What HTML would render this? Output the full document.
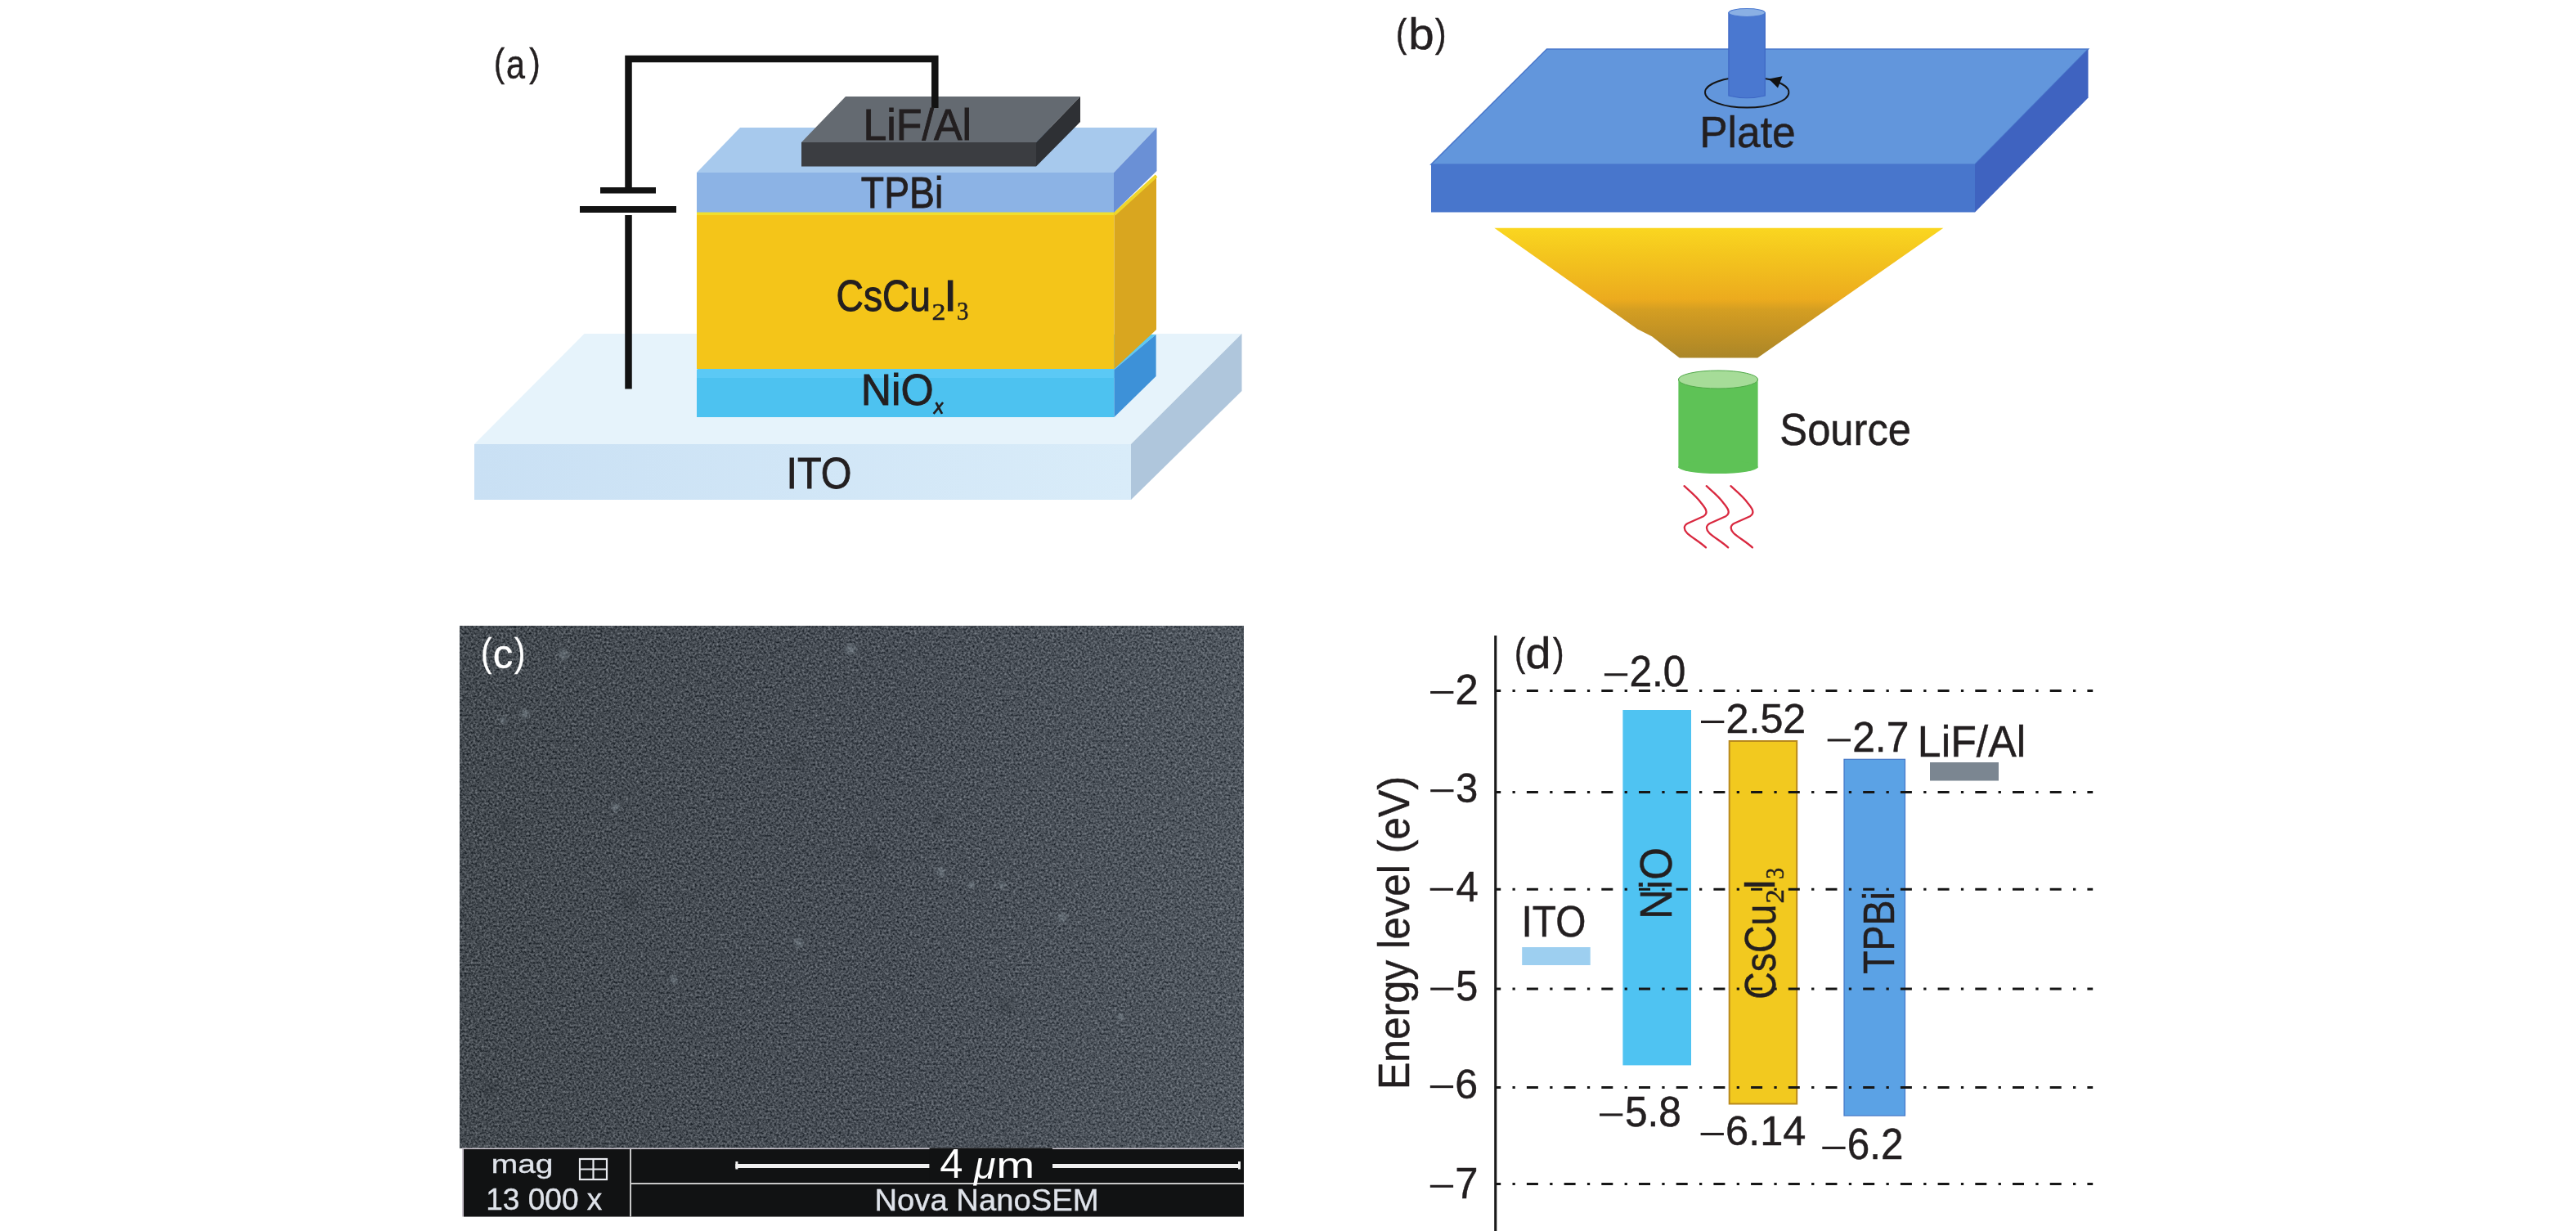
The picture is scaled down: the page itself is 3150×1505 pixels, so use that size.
<!DOCTYPE html>
<html><head><meta charset="utf-8"><title>figure</title>
<style>
html,body{margin:0;padding:0;background:#ffffff;}
body{width:3150px;height:1505px;overflow:hidden;position:relative;}
svg{position:absolute;left:0;top:0;display:block;will-change:transform;}
text{white-space:pre;}
</style></head><body>
<svg width="3150" height="1505" viewBox="0 0 3150 1505">
<defs>
<filter id="semnoise" x="0" y="0" width="100%" height="100%" color-interpolation-filters="sRGB">
<feTurbulence type="fractalNoise" baseFrequency="0.38" numOctaves="2" seed="7" result="n"/>
<feColorMatrix in="n" type="matrix" values="1 0 0 0 0  1 0 0 0 0  1 0 0 0 0  0 0 0 0 1" result="c"/>
<feComposite in="SourceGraphic" in2="c" operator="arithmetic" k1="0" k2="1" k3="0.55" k4="-0.275"/>
</filter>
</defs>
<rect width="3150" height="1505" fill="#ffffff"/>
<g id="pa">
<polygon points="580,543 1383,543 1518.5,408 714.5,408" fill="#e6f3fb"/>
<defs><linearGradient id="itof" x1="0" y1="0" x2="1" y2="0"><stop offset="0" stop-color="#c9e0f4"/><stop offset="1" stop-color="#d9ecf9"/></linearGradient></defs><rect x="580" y="543" width="803" height="68" fill="url(#itof)"/>
<polygon points="1383,543 1518.5,408 1518.5,478 1383,611" fill="#afc6dc"/>
<polygon points="852,452 1362.5,452 1413.6,409 903,409" fill="#5ccaf3"/>
<rect x="852" y="452" width="510.5" height="58" fill="#4dc2f0"/>
<rect x="852" y="452" width="510.5" height="10" fill="#5bc9f5"/>
<polygon points="1362.5,452 1413.6,409 1413.6,460 1362.5,510" fill="#3d91d8"/>
<rect x="852" y="259" width="510.5" height="192" fill="#f4c519"/>
<rect x="852" y="259" width="510.5" height="4" fill="#f1df2c"/>
<polygon points="1362.5,261 1414,214 1414,403 1362.5,451" fill="#d9a61f"/>
<polyline points="1362.5,262 1414,215" stroke="#efd52a" stroke-width="4" fill="none"/>
<polygon points="852,211 1362,211 1414.5,156 905,156" fill="#a7c9ed"/>
<rect x="852" y="211" width="510" height="48.5" fill="#8cb3e5"/>
<polygon points="1362,211 1414.5,156 1414.5,209 1362,260" fill="#6a90d6"/>
<polygon points="980,174 1267,174 1321,118 1034,118" fill="#646a71"/>
<rect x="980" y="174" width="287" height="29.5" fill="#3b3d41"/>
<polygon points="1267,174 1321,118 1321,149 1267,203.5" fill="#2e3034"/>
<path d="M768.5,475.5 V263 M768.5,229 V72 H1143.3 V132" stroke="#121212" stroke-width="8.5" fill="none" stroke-linejoin="miter"/>
<rect x="734" y="229" width="68" height="7.5" fill="#121212"/>
<rect x="709" y="252" width="118" height="8" fill="#121212"/>
<text transform="translate(604.07,92.64) scale(0.8157,1)" style="font-family:'Liberation Sans',sans-serif;font-size:48.09px;" fill="#231f20" stroke="#231f20" stroke-width="0.5" >(</text>
<text transform="translate(619.05,95.81) scale(0.8222,1)" style="font-family:'Liberation Sans',sans-serif;font-size:50.20px;" fill="#231f20" stroke="#231f20" stroke-width="0.5" >a</text>
<text transform="translate(647.16,92.64) scale(0.8392,1)" style="font-family:'Liberation Sans',sans-serif;font-size:48.09px;" fill="#231f20" stroke="#231f20" stroke-width="0.5" >)</text>
<text transform="translate(1055.44,170.80) scale(0.9700,1)" style="font-family:'Liberation Sans',sans-serif;font-size:53.49px;" fill="#231f20" stroke="#231f20" stroke-width="0.9" >LiF/Al</text>
<text transform="translate(1052.86,253.80) scale(0.8682,1)" style="font-family:'Liberation Sans',sans-serif;font-size:53.34px;" fill="#231f20" stroke="#231f20" stroke-width="0.9" >TPBi</text>
<text transform="translate(1022.55,379.98) scale(0.8630,1)" style="font-family:'Liberation Sans',sans-serif;font-size:53.53px;" fill="#231f20" stroke="#231f20" stroke-width="1.1" >CsCu</text>
<text transform="translate(1139.41,390.80) scale(1.1288,1)" style="font-family:'Liberation Serif',sans-serif;font-size:30.06px;" fill="#231f20" stroke="#231f20" stroke-width="0.5" >2</text>
<text transform="translate(1154.16,380.00) scale(1.0539,1)" style="font-family:'Liberation Sans',sans-serif;font-size:53.93px;" fill="#231f20" stroke="#231f20" stroke-width="1.1" >I</text>
<text transform="translate(1169.92,390.50) scale(0.9396,1)" style="font-family:'Liberation Serif',sans-serif;font-size:30.66px;" fill="#231f20" stroke="#231f20" stroke-width="0.5" >3</text>
<text transform="translate(1052.66,494.90) scale(0.9689,1)" style="font-family:'Liberation Sans',sans-serif;font-size:53.34px;" fill="#231f20" stroke="#231f20" stroke-width="0.9" >NiO</text>
<path d="M1141.6,505.8 L1153.1,492 M1144.6,492 L1152,505.8" stroke="#231f20" stroke-width="2.7" fill="none"/>
<text transform="translate(961.53,597.00) scale(0.9015,1)" style="font-family:'Liberation Sans',sans-serif;font-size:53.78px;" fill="#231f20" stroke="#231f20" stroke-width="0.9" >ITO</text>
</g>
<g id="pb">
<text transform="translate(1707.04,56.64) scale(0.8235,1)" style="font-family:'Liberation Sans',sans-serif;font-size:48.09px;" fill="#231f20" stroke="#231f20" stroke-width="0.5" >(</text>
<text transform="translate(1722.16,60.27) scale(1.0448,1)" style="font-family:'Liberation Sans',sans-serif;font-size:54.06px;" fill="#231f20" stroke="#231f20" stroke-width="0.5" >b</text>
<text transform="translate(1755.06,56.64) scale(0.8392,1)" style="font-family:'Liberation Sans',sans-serif;font-size:48.09px;" fill="#231f20" stroke="#231f20" stroke-width="0.5" >)</text>
<polygon points="1750,201 2415,201 2553.5,60 1891.5,60" fill="#6296dc" stroke="#4a78cc" stroke-width="1.5"/>
<rect x="1750" y="201" width="665" height="58.5" fill="#4876cc"/>
<polygon points="2415,201 2553.5,60 2553.5,119.5 2415,259.5" fill="#3f63c0"/>
<ellipse cx="2136.2" cy="112.9" rx="51.2" ry="18.6" fill="none" stroke="#151515" stroke-width="1.9"/>
<path d="M2113.9,15.5 V117 Q2136.2,122.5 2158.3,117 V15.5 Z" fill="#4a78d0" stroke="#3d66c4" stroke-width="1.2"/>

<ellipse cx="2136.1" cy="15.5" rx="22.2" ry="5" fill="#8ab0e4" stroke="#4a78d0" stroke-width="1.2"/>
<polygon points="2163,96.5 2179.5,93.3 2174,107.5" fill="#111"/>
<text transform="translate(2078.27,180.00) scale(0.9657,1)" style="font-family:'Liberation Sans',sans-serif;font-size:53.34px;" fill="#231f20" stroke="#231f20" stroke-width="0.5" >Plate</text>
<defs><linearGradient id="fang" x1="0" y1="0" x2="0" y2="1"><stop offset="0" stop-color="#fad620"/><stop offset="0.2" stop-color="#f4c61e"/><stop offset="0.55" stop-color="#ecab1e"/><stop offset="0.63" stop-color="#d49e22"/><stop offset="0.8" stop-color="#c29224"/><stop offset="1" stop-color="#aa8628"/></linearGradient></defs>
<polygon points="1827.3,278.8 2376.4,278.8 2149.2,437.5 2053.7,437.5 2020,411.3 2002.6,402.6" fill="url(#fang)"/>
<rect x="2052.4" y="464" width="97.2" height="108" fill="#5ec256"/>
<ellipse cx="2101" cy="571" rx="48.6" ry="8" fill="#5ec256"/>
<ellipse cx="2101" cy="464" rx="48.6" ry="11" fill="#a6dc98" stroke="#4fa848" stroke-width="1"/>
<text transform="translate(2176.30,544.26) scale(0.9164,1)" style="font-family:'Liberation Sans',sans-serif;font-size:55.37px;" fill="#231f20" stroke="#231f20" stroke-width="0.5" >Source</text>
<path d="M2059.5,594.2 c5,4.5 16,13.5 20.5,20.5 c4.5,5.5 10.5,12.5 3,16.5 l-19,8.5 c-6,3 -5,8 -1,12 c5,5 16,11 23,17.7" stroke="#d9283f" stroke-width="2.3" fill="none" stroke-linejoin="round" stroke-linecap="round"/>
<path d="M2086.7,594.2 c5,4.5 16,13.5 20.5,20.5 c4.5,5.5 10.5,12.5 3,16.5 l-19,8.5 c-6,3 -5,8 -1,12 c5,5 16,11 23,17.7" stroke="#d9283f" stroke-width="2.3" fill="none" stroke-linejoin="round" stroke-linecap="round"/>
<path d="M2116.4,594.2 c5,4.5 16,13.5 20.5,20.5 c4.5,5.5 10.5,12.5 3,16.5 l-19,8.5 c-6,3 -5,8 -1,12 c5,5 16,11 23,17.7" stroke="#d9283f" stroke-width="2.3" fill="none" stroke-linejoin="round" stroke-linecap="round"/>
</g>
<g id="pc">
<defs><linearGradient id="semg" x1="0" y1="0" x2="1" y2="0"><stop offset="0" stop-color="#43494f"/><stop offset="0.55" stop-color="#474d55"/><stop offset="1" stop-color="#4f565e"/></linearGradient><radialGradient id="speck"><stop offset="0" stop-color="#aab8c0" stop-opacity="0.38"/><stop offset="1" stop-color="#aab8c0" stop-opacity="0"/></radialGradient><radialGradient id="dspot"><stop offset="0" stop-color="#2c3238" stop-opacity="0.35"/><stop offset="1" stop-color="#2c3238" stop-opacity="0"/></radialGradient></defs>
<rect x="562" y="765" width="959" height="639" fill="url(#semg)" filter="url(#semnoise)"/>
<circle cx="689" cy="800" r="9" fill="url(#speck)"/>
<circle cx="642" cy="873" r="8" fill="url(#speck)"/>
<circle cx="1040" cy="794" r="10" fill="url(#speck)"/>
<circle cx="753" cy="987" r="7" fill="url(#speck)"/>
<circle cx="1151" cy="1066" r="8" fill="url(#speck)"/>
<circle cx="1188" cy="1082" r="6" fill="url(#speck)"/>
<circle cx="1225" cy="1082" r="6" fill="url(#speck)"/>
<circle cx="1299" cy="1122" r="8" fill="url(#speck)"/>
<circle cx="977" cy="1153" r="8" fill="url(#speck)"/>
<circle cx="824" cy="1198" r="7" fill="url(#speck)"/>
<circle cx="1370" cy="1243" r="6" fill="url(#speck)"/>
<circle cx="615" cy="880" r="6" fill="url(#speck)"/>
<circle cx="1146" cy="1003" r="12" fill="url(#dspot)"/>
<circle cx="1067" cy="1045" r="14" fill="url(#dspot)"/>
<circle cx="618" cy="1008" r="14" fill="url(#dspot)"/>
<circle cx="972" cy="929" r="14" fill="url(#dspot)"/>
<circle cx="770" cy="1100" r="18" fill="url(#dspot)"/>
<circle cx="1230" cy="1230" r="14" fill="url(#dspot)"/>
<circle cx="600" cy="1330" r="16" fill="url(#dspot)"/>
<text transform="translate(588.00,813.88) scale(0.8337,1)" style="font-family:'Liberation Sans',sans-serif;font-size:48.41px;" fill="#ffffff" stroke="#ffffff" stroke-width="0.3" >(</text>
<text transform="translate(602.81,817.00) scale(0.9690,1)" style="font-family:'Liberation Sans',sans-serif;font-size:50.74px;" fill="#ffffff" stroke="#ffffff" stroke-width="0.3" >c</text>
<text transform="translate(628.96,813.88) scale(0.8337,1)" style="font-family:'Liberation Sans',sans-serif;font-size:48.41px;" fill="#ffffff" stroke="#ffffff" stroke-width="0.3" >)</text>
<rect x="565" y="1403.5" width="956" height="84" fill="#c9c3cc"/>
<rect x="567" y="1405" width="954" height="82.5" fill="#111213"/>
<rect x="770" y="1405" width="2" height="82.5" fill="#c8c8c8"/>
<rect x="772" y="1446" width="749" height="2" fill="#c8c8c8"/>
<rect x="1136.6" y="1403.5" width="150.4" height="42.5" fill="#111213"/>
<rect x="899.4" y="1423" width="237" height="5" fill="#f0f0f0"/>
<rect x="1287" y="1423" width="230" height="5" fill="#f0f0f0"/>
<rect x="899.4" y="1420" width="3" height="9.5" fill="#f0f0f0"/>
<rect x="1514" y="1420" width="3" height="9.5" fill="#f0f0f0"/>
<text transform="translate(600.71,1434.08) scale(1.2798,1)" style="font-family:'Liberation Sans',sans-serif;font-size:30.45px;" fill="#dfe3ea" stroke="#dfe3ea" stroke-width="0.35" >mag</text>
<g stroke="#e8eaee" stroke-width="2.2" fill="none"><rect x="709" y="1417" width="33" height="25"/><line x1="725.5" y1="1417" x2="725.5" y2="1442"/><line x1="709" y1="1429.5" x2="742" y2="1429.5"/></g>
<text transform="translate(594.18,1479.35) scale(1.0213,1)" style="font-family:'Liberation Sans',sans-serif;font-size:36.30px;" fill="#dfe3ea" stroke="#dfe3ea" stroke-width="0.35" >13 000 x</text>
<text transform="translate(1149.33,1440.00) scale(1.0250,1)" style="font-family:'Liberation Sans',sans-serif;font-size:49.56px;" fill="#ffffff" stroke="#ffffff" stroke-width="0" >4</text>
<text transform="translate(1191.01,1440.88) scale(1.0511,1)" style="font-family:'Liberation Sans',sans-serif;font-size:45.96px;font-style:italic;" fill="#ffffff" stroke="#ffffff" stroke-width="0" >μ</text>
<text transform="translate(1218.26,1440.00) scale(1.2963,1)" style="font-family:'Liberation Sans',sans-serif;font-size:43.49px;" fill="#ffffff" stroke="#ffffff" stroke-width="0" >m</text>
<text transform="translate(1069.46,1480.25) scale(1.0576,1)" style="font-family:'Liberation Sans',sans-serif;font-size:36.16px;" fill="#dfe3ea" stroke="#dfe3ea" stroke-width="0.35" >Nova NanoSEM</text>
</g>
<g id="pd">
<rect x="1861.2" y="1158" width="83.5" height="22" fill="#9dcff0"/>
<rect x="1984.4" y="868" width="83.6" height="434.4" fill="#4fc3f2"/>
<rect x="2114.7" y="906" width="82.5" height="443.5" fill="#f2c91f" stroke="#b8891c" stroke-width="2"/>
<rect x="2255" y="928.3" width="74.5" height="435.7" fill="#5ba2e5" stroke="#4577c6" stroke-width="1.2"/>
<rect x="2360" y="932" width="84" height="22.5" fill="#7b8691"/>
<line x1="1829" y1="844.4" x2="2559.2" y2="844.4" stroke="#161616" stroke-width="3" stroke-dasharray="14 14.3 3.3 14.1" stroke-dashoffset="7.8"/>
<line x1="1829" y1="968.4" x2="2559.2" y2="968.4" stroke="#161616" stroke-width="3" stroke-dasharray="14 14.3 3.3 14.1" stroke-dashoffset="7.8"/>
<line x1="1829" y1="1087.3" x2="2559.2" y2="1087.3" stroke="#161616" stroke-width="3" stroke-dasharray="14 14.3 3.3 14.1" stroke-dashoffset="7.8"/>
<line x1="1829" y1="1209.1" x2="2559.2" y2="1209.1" stroke="#161616" stroke-width="3" stroke-dasharray="14 14.3 3.3 14.1" stroke-dashoffset="7.8"/>
<line x1="1829" y1="1329.6" x2="2559.2" y2="1329.6" stroke="#161616" stroke-width="3" stroke-dasharray="14 14.3 3.3 14.1" stroke-dashoffset="7.8"/>
<line x1="1829" y1="1447.4" x2="2559.2" y2="1447.4" stroke="#161616" stroke-width="3" stroke-dasharray="14 14.3 3.3 14.1" stroke-dashoffset="7.8"/>
<rect x="1827.2" y="777" width="3.1" height="728" fill="#1a1a1a"/>
<text transform="translate(1852.04,813.88) scale(0.8181,1)" style="font-family:'Liberation Sans',sans-serif;font-size:48.41px;" fill="#231f20" stroke="#231f20" stroke-width="0.5" >(</text>
<text transform="translate(1865.56,816.77) scale(1.0377,1)" style="font-family:'Liberation Sans',sans-serif;font-size:53.79px;" fill="#231f20" stroke="#231f20" stroke-width="0.5" >d</text>
<text transform="translate(1899.06,813.88) scale(0.8414,1)" style="font-family:'Liberation Sans',sans-serif;font-size:48.41px;" fill="#231f20" stroke="#231f20" stroke-width="0.5" >)</text>
<rect x="1961.90" y="823.25" width="28.3" height="3.1" fill="#231f20"/><text transform="translate(1992.41,838.68) scale(0.9288,1)" style="font-family:'Liberation Sans',sans-serif;font-size:53.39px;" fill="#231f20" stroke="#231f20" stroke-width="0.5" >2.0</text>
<rect x="2080.00" y="880.95" width="28.3" height="3.1" fill="#231f20"/><text transform="translate(2110.47,896.41) scale(1.0084,1)" style="font-family:'Liberation Sans',sans-serif;font-size:49.86px;" fill="#231f20" stroke="#231f20" stroke-width="0.5" >2.52</text>
<rect x="2234.70" y="903.35" width="28.3" height="3.1" fill="#231f20"/><text transform="translate(2265.20,919.30) scale(0.9561,1)" style="font-family:'Liberation Sans',sans-serif;font-size:51.99px;" fill="#231f20" stroke="#231f20" stroke-width="0.5" >2.7</text>
<text transform="translate(2344.85,924.70) scale(0.9711,1)" style="font-family:'Liberation Sans',sans-serif;font-size:53.34px;" fill="#231f20" stroke="#231f20" stroke-width="0.5" >LiF/Al</text>
<rect x="1956.00" y="1361.35" width="28.3" height="3.1" fill="#231f20"/><text transform="translate(1987.01,1376.80) scale(0.9673,1)" style="font-family:'Liberation Sans',sans-serif;font-size:51.27px;" fill="#231f20" stroke="#231f20" stroke-width="0.5" >5.8</text>
<rect x="2079.60" y="1384.95" width="28.3" height="3.1" fill="#231f20"/><text transform="translate(2110.03,1400.40) scale(0.9965,1)" style="font-family:'Liberation Sans',sans-serif;font-size:50.71px;" fill="#231f20" stroke="#231f20" stroke-width="0.5" >6.14</text>
<rect x="2228.30" y="1401.85" width="28.3" height="3.1" fill="#231f20"/><text transform="translate(2258.79,1417.28) scale(0.9231,1)" style="font-family:'Liberation Sans',sans-serif;font-size:53.53px;" fill="#231f20" stroke="#231f20" stroke-width="0.5" >6.2</text>
<text transform="translate(1860.59,1144.70) scale(0.8941,1)" style="font-family:'Liberation Sans',sans-serif;font-size:53.49px;" fill="#231f20" stroke="#231f20" stroke-width="0.5" >ITO</text>
<rect x="1749.10" y="844.95" width="28.3" height="3.1" fill="#231f20"/><text transform="translate(1779.55,860.90) scale(0.9727,1)" style="font-family:'Liberation Sans',sans-serif;font-size:52.13px;" fill="#231f20" stroke="#231f20" stroke-width="0.5" >2</text>
<rect x="1749.20" y="965.15" width="28.3" height="3.1" fill="#231f20"/><text transform="translate(1780.35,980.61) scale(0.9730,1)" style="font-family:'Liberation Sans',sans-serif;font-size:49.86px;" fill="#231f20" stroke="#231f20" stroke-width="0.5" >3</text>
<rect x="1748.70" y="1085.75" width="28.3" height="3.1" fill="#231f20"/><text transform="translate(1780.58,1101.70) scale(0.9553,1)" style="font-family:'Liberation Sans',sans-serif;font-size:51.31px;" fill="#231f20" stroke="#231f20" stroke-width="0.5" >4</text>
<rect x="1749.20" y="1207.55" width="28.3" height="3.1" fill="#231f20"/><text transform="translate(1780.26,1222.99) scale(0.9274,1)" style="font-family:'Liberation Sans',sans-serif;font-size:52.31px;" fill="#231f20" stroke="#231f20" stroke-width="0.5" >5</text>
<rect x="1748.80" y="1327.05" width="28.3" height="3.1" fill="#231f20"/><text transform="translate(1779.26,1342.51) scale(0.9901,1)" style="font-family:'Liberation Sans',sans-serif;font-size:50.56px;" fill="#231f20" stroke="#231f20" stroke-width="0.5" >6</text>
<rect x="1748.80" y="1448.75" width="28.3" height="3.1" fill="#231f20"/><text transform="translate(1779.19,1464.70) scale(0.9474,1)" style="font-family:'Liberation Sans',sans-serif;font-size:53.63px;" fill="#231f20" stroke="#231f20" stroke-width="0.5" >7</text>
<text transform="translate(1723.39,1332.10) rotate(-90) scale(0.9333,1)" style="font-family:'Liberation Sans',sans-serif;font-size:53.53px;" fill="#231f20" stroke="#231f20" stroke-width="0.5">Energy level (eV)</text>
<text transform="translate(2044.30,1123.98) rotate(-90) scale(0.9331,1)" style="font-family:'Liberation Sans',sans-serif;font-size:54.65px;" fill="#231f20" stroke="#231f20" stroke-width="0.5">NiO</text>
<text transform="translate(2316.30,1190.84) rotate(-90) scale(0.8515,1)" style="font-family:'Liberation Sans',sans-serif;font-size:54.51px;" fill="#231f20" stroke="#231f20" stroke-width="0.5">TPBi</text>
<text transform="translate(2170.67,1221.65) rotate(-90) scale(0.8504,1)" style="font-family:'Liberation Sans',sans-serif;font-size:54.52px;" fill="#231f20" stroke="#231f20" stroke-width="0.5">CsCu</text>
<text transform="translate(2181.00,1104.53) rotate(-90) scale(1.0805,1)" style="font-family:'Liberation Serif',sans-serif;font-size:32.32px;" fill="#231f20" stroke="#231f20" stroke-width="0.5">2</text>
<text transform="translate(2170.00,1088.35) rotate(-90) scale(0.9171,1)" style="font-family:'Liberation Sans',sans-serif;font-size:53.78px;" fill="#231f20" stroke="#231f20" stroke-width="0.5">I</text>
<text transform="translate(2181.08,1074.72) rotate(-90) scale(0.8505,1)" style="font-family:'Liberation Serif',sans-serif;font-size:32.45px;" fill="#231f20" stroke="#231f20" stroke-width="0.5">3</text>
</g>
</svg>
</body></html>
